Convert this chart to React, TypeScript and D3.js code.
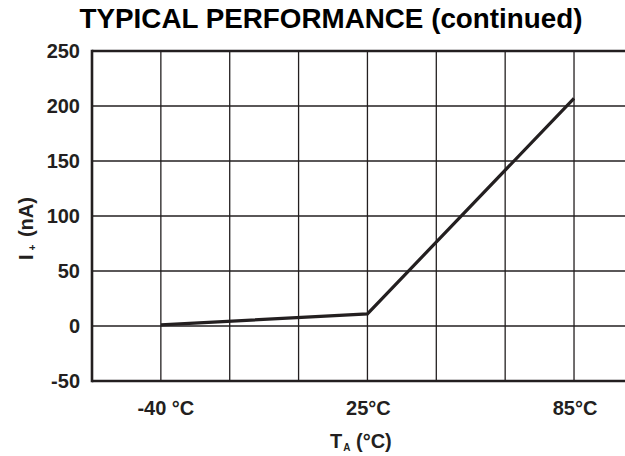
import React from "react";
import * as d3 from "d3";

const categories = ["-40 °C", "25°C", "85°C"];
const values = [1, 11, 207];
const yTicks = [-50, 0, 50, 100, 150, 200, 250];
const title = "TYPICAL PERFORMANCE (continued)";

const W = 625;
const H = 456;
const left = 92;
const top = 51;
const bottom = 381;
const colW = 68.86;

export default function App() {
  const x = d3.scaleLinear().domain([0, 7]).range([left, left + 7 * colW]);
  const y = d3.scaleLinear().domain([-50, 250]).range([bottom, top]);
  const catPos = (i: number) => x(1 + 3 * i);
  const nCols = Math.ceil((W - left) / colW);
  const gridX = d3.range(1, nCols + 1).map((i) => x(i)).filter((v) => v < W);
  const line = d3
    .line<number>()
    .x((_, i) => catPos(i))
    .y((d) => y(d));
  const font = "'Liberation Sans', Arial, Helvetica, sans-serif";
  const ink = "#231f20";
  const fs = 20;
  return (
    <svg
      width={W}
      height={H}
      style={{ position: "absolute", left: 0, top: 0, background: "#fff" }}
      fontFamily={font}
      fontWeight="bold"
    >
      <text x={331} y={28.3} textAnchor="middle" fontSize={27.8} fill="#000">
        {title}
      </text>
      {/* grid */}
      {yTicks.slice(1, -1).map((t) => (
        <line key={"gy" + t} x1={left} x2={W} y1={y(t)} y2={y(t)} stroke={ink} strokeWidth={1.3} />
      ))}
      {gridX.map((gx, i) => (
        <line key={"gx" + i} x1={gx} x2={gx} y1={top} y2={bottom} stroke={ink} strokeWidth={1.3} />
      ))}
      {/* frame */}
      <line x1={left} x2={W} y1={top} y2={top} stroke={ink} strokeWidth={2.6} />
      <line x1={left} x2={W} y1={bottom} y2={bottom} stroke={ink} strokeWidth={2.6} />
      <line x1={left} x2={left} y1={top - 1.3} y2={bottom + 1.3} stroke={ink} strokeWidth={2.6} />
      {/* y tick labels */}
      {yTicks.map((t) => (
        <text key={"yt" + t} x={80} y={y(t)} dy="0.37em" textAnchor="end" fontSize={fs} fill={ink}>
          {t}
        </text>
      ))}
      {/* x tick labels */}
      {categories.map((c, i) => (
        <text key={"xt" + i} x={catPos(i) + (i === 0 ? 5 : 1)} y={415} textAnchor="middle" fontSize={fs} fill={ink}>
          {c}
        </text>
      ))}
      {/* series */}
      <path d={line(values) || ""} fill="none" stroke={ink} strokeWidth={3.2} strokeLinejoin="miter" />
      {/* axis titles */}
      <text x={330} y={448} textAnchor="start" fontSize={fs} fill={ink}>
        T<tspan fontSize={10} dy={3} dx={1}>A</tspan>
        <tspan dy={-3}> (°C)</tspan>
      </text>
      <text transform={`translate(33, 260) rotate(-90)`} textAnchor="start" fontSize={fs} fill={ink}>
        I<tspan fontSize={10} dy={3} dx={4}>+</tspan>
        <tspan dy={-3} dx={2}> (nA)</tspan>
      </text>
    </svg>
  );
}
